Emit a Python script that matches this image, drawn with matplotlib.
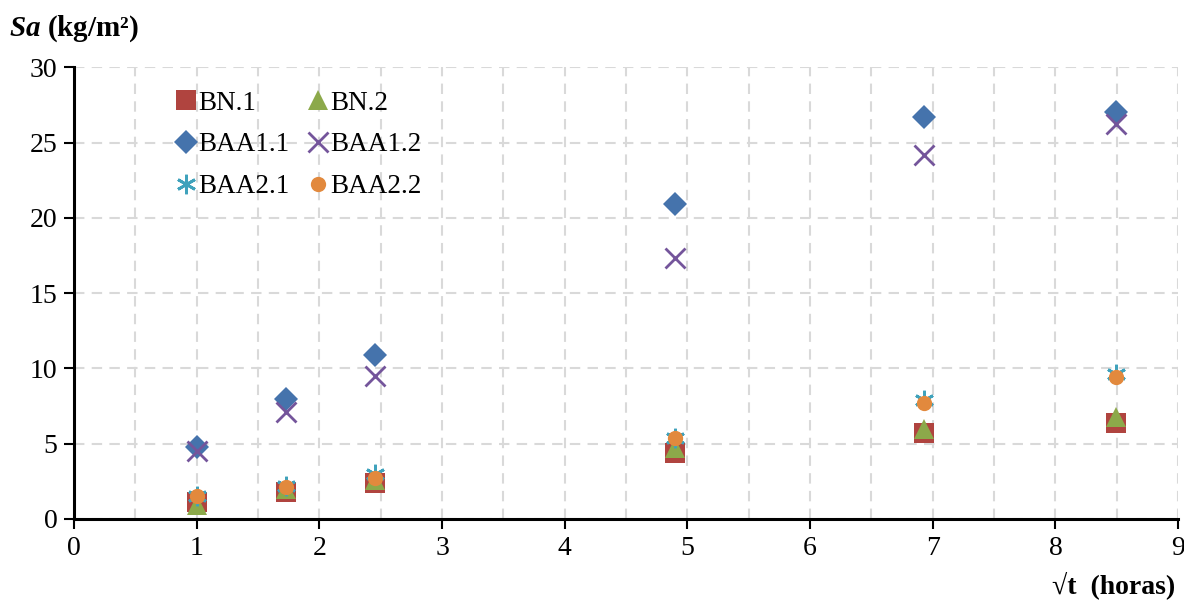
import numpy as np
import matplotlib
matplotlib.use("Agg")
import matplotlib.pyplot as mp
from matplotlib.ticker import MultipleLocator

mp.rcParams['font.family'] = ['Liberation Serif', 'DejaVu Serif']
mp.rcParams['mathtext.fontset'] = 'custom'
mp.rcParams['mathtext.rm'] = 'Liberation Serif'
mp.rcParams['mathtext.it'] = 'Liberation Serif:italic'
mp.rcParams['mathtext.bf'] = 'Liberation Serif:bold'
mp.rcParams['mathtext.bfit'] = 'Liberation Serif:italic:bold'

# square root of time (hours) for each reading
sqrt_t = [1.0, 1.73, 2.45, 4.90, 6.93, 8.49]

# absorbed water per area, kg/m2
bn_1 = [1.1, 1.8, 2.4, 4.4, 5.7, 6.4]
bn_2 = [0.9, 2.0, 2.6, 4.7, 6.0, 6.8]
baa1_1 = [4.8, 8.0, 10.9, 20.9, 26.7, 27.0]
baa1_2 = [4.5, 7.1, 9.5, 17.3, 24.2, 26.2]
baa2_1 = [1.5, 2.2, 3.0, 5.4, 7.9, 9.6]
baa2_2 = [1.5, 2.1, 2.7, 5.4, 7.7, 9.4]

series = [
    ('BN.1', bn_1, 's', '#B0443F', 14),
    ('BN.2', bn_2, '^', '#8CA94A', 15),
    ('BAA1.1', baa1_1, 'D', '#4573AC', 12),
    ('BAA1.2', baa1_2, 'x', '#74559B', 14),
    ('BAA2.1', baa2_1, (6, 2, 0), '#3FA2BC', 14),
    ('BAA2.2', baa2_2, 'o', '#E2893D', 11),
]

fig, ax = mp.subplots(figsize=(11.84, 6.0), dpi=100)
fig.subplots_adjust(left=0.0625, right=0.995, top=0.888, bottom=0.135)

handles = {}
for name, vals, mk, col, ms in series:
    if mk == 'x' or isinstance(mk, tuple):
        h, = ax.plot(sqrt_t, vals, linestyle='none', marker=mk, markersize=ms,
                     markeredgecolor=col, markerfacecolor=col, markeredgewidth=2.0,
                     label=name, clip_on=False)
    else:
        h, = ax.plot(sqrt_t, vals, linestyle='none', marker=mk, markersize=ms,
                     color=col, markeredgewidth=0, label=name, clip_on=False)
    handles[name] = h

ax.set_xlim(0, 9)
ax.set_ylim(0, 30)
ax.xaxis.set_major_locator(MultipleLocator(1))
ax.xaxis.set_minor_locator(MultipleLocator(0.5))
ax.yaxis.set_major_locator(MultipleLocator(5))

dash = (0, (5, 3.5))
ax.grid(True, which='both', axis='x', color='#D9D9D9', linestyle=dash, linewidth=1.5)
ax.grid(True, which='major', axis='y', color='#D9D9D9', linestyle=dash, linewidth=1.5)
ax.set_axisbelow(True)

for s in ['top', 'right']:
    ax.spines[s].set_visible(False)
for s in ['left', 'bottom']:
    ax.spines[s].set_linewidth(2.2)
    ax.spines[s].set_color('black')

ax.tick_params(axis='both', which='major', direction='out', length=7, width=1.5,
               labelsize=20, pad=5, color='black')
ax.tick_params(axis='both', which='minor', length=0)

fig.text(0.008, 0.953, r'$\mathbfit{Sa}$ (kg/m²)', fontsize=21, fontweight='bold',
         ha='left', va='center')
fig.text(0.993, 0.025, '√t  (horas)', fontsize=20, fontweight='bold',
         ha='right', va='center')

order = ['BN.1', 'BAA1.1', 'BAA2.1', 'BN.2', 'BAA1.2', 'BAA2.2']
ax.legend([handles[n] for n in order], order, ncol=2, frameon=False,
          loc='upper left', bbox_to_anchor=(0.083, 0.972), fontsize=19.5,
          handlelength=0.7, handletextpad=0.1, columnspacing=0.7,
          labelspacing=0.62, borderaxespad=0)

fig.savefig('out.png', dpi=100)
